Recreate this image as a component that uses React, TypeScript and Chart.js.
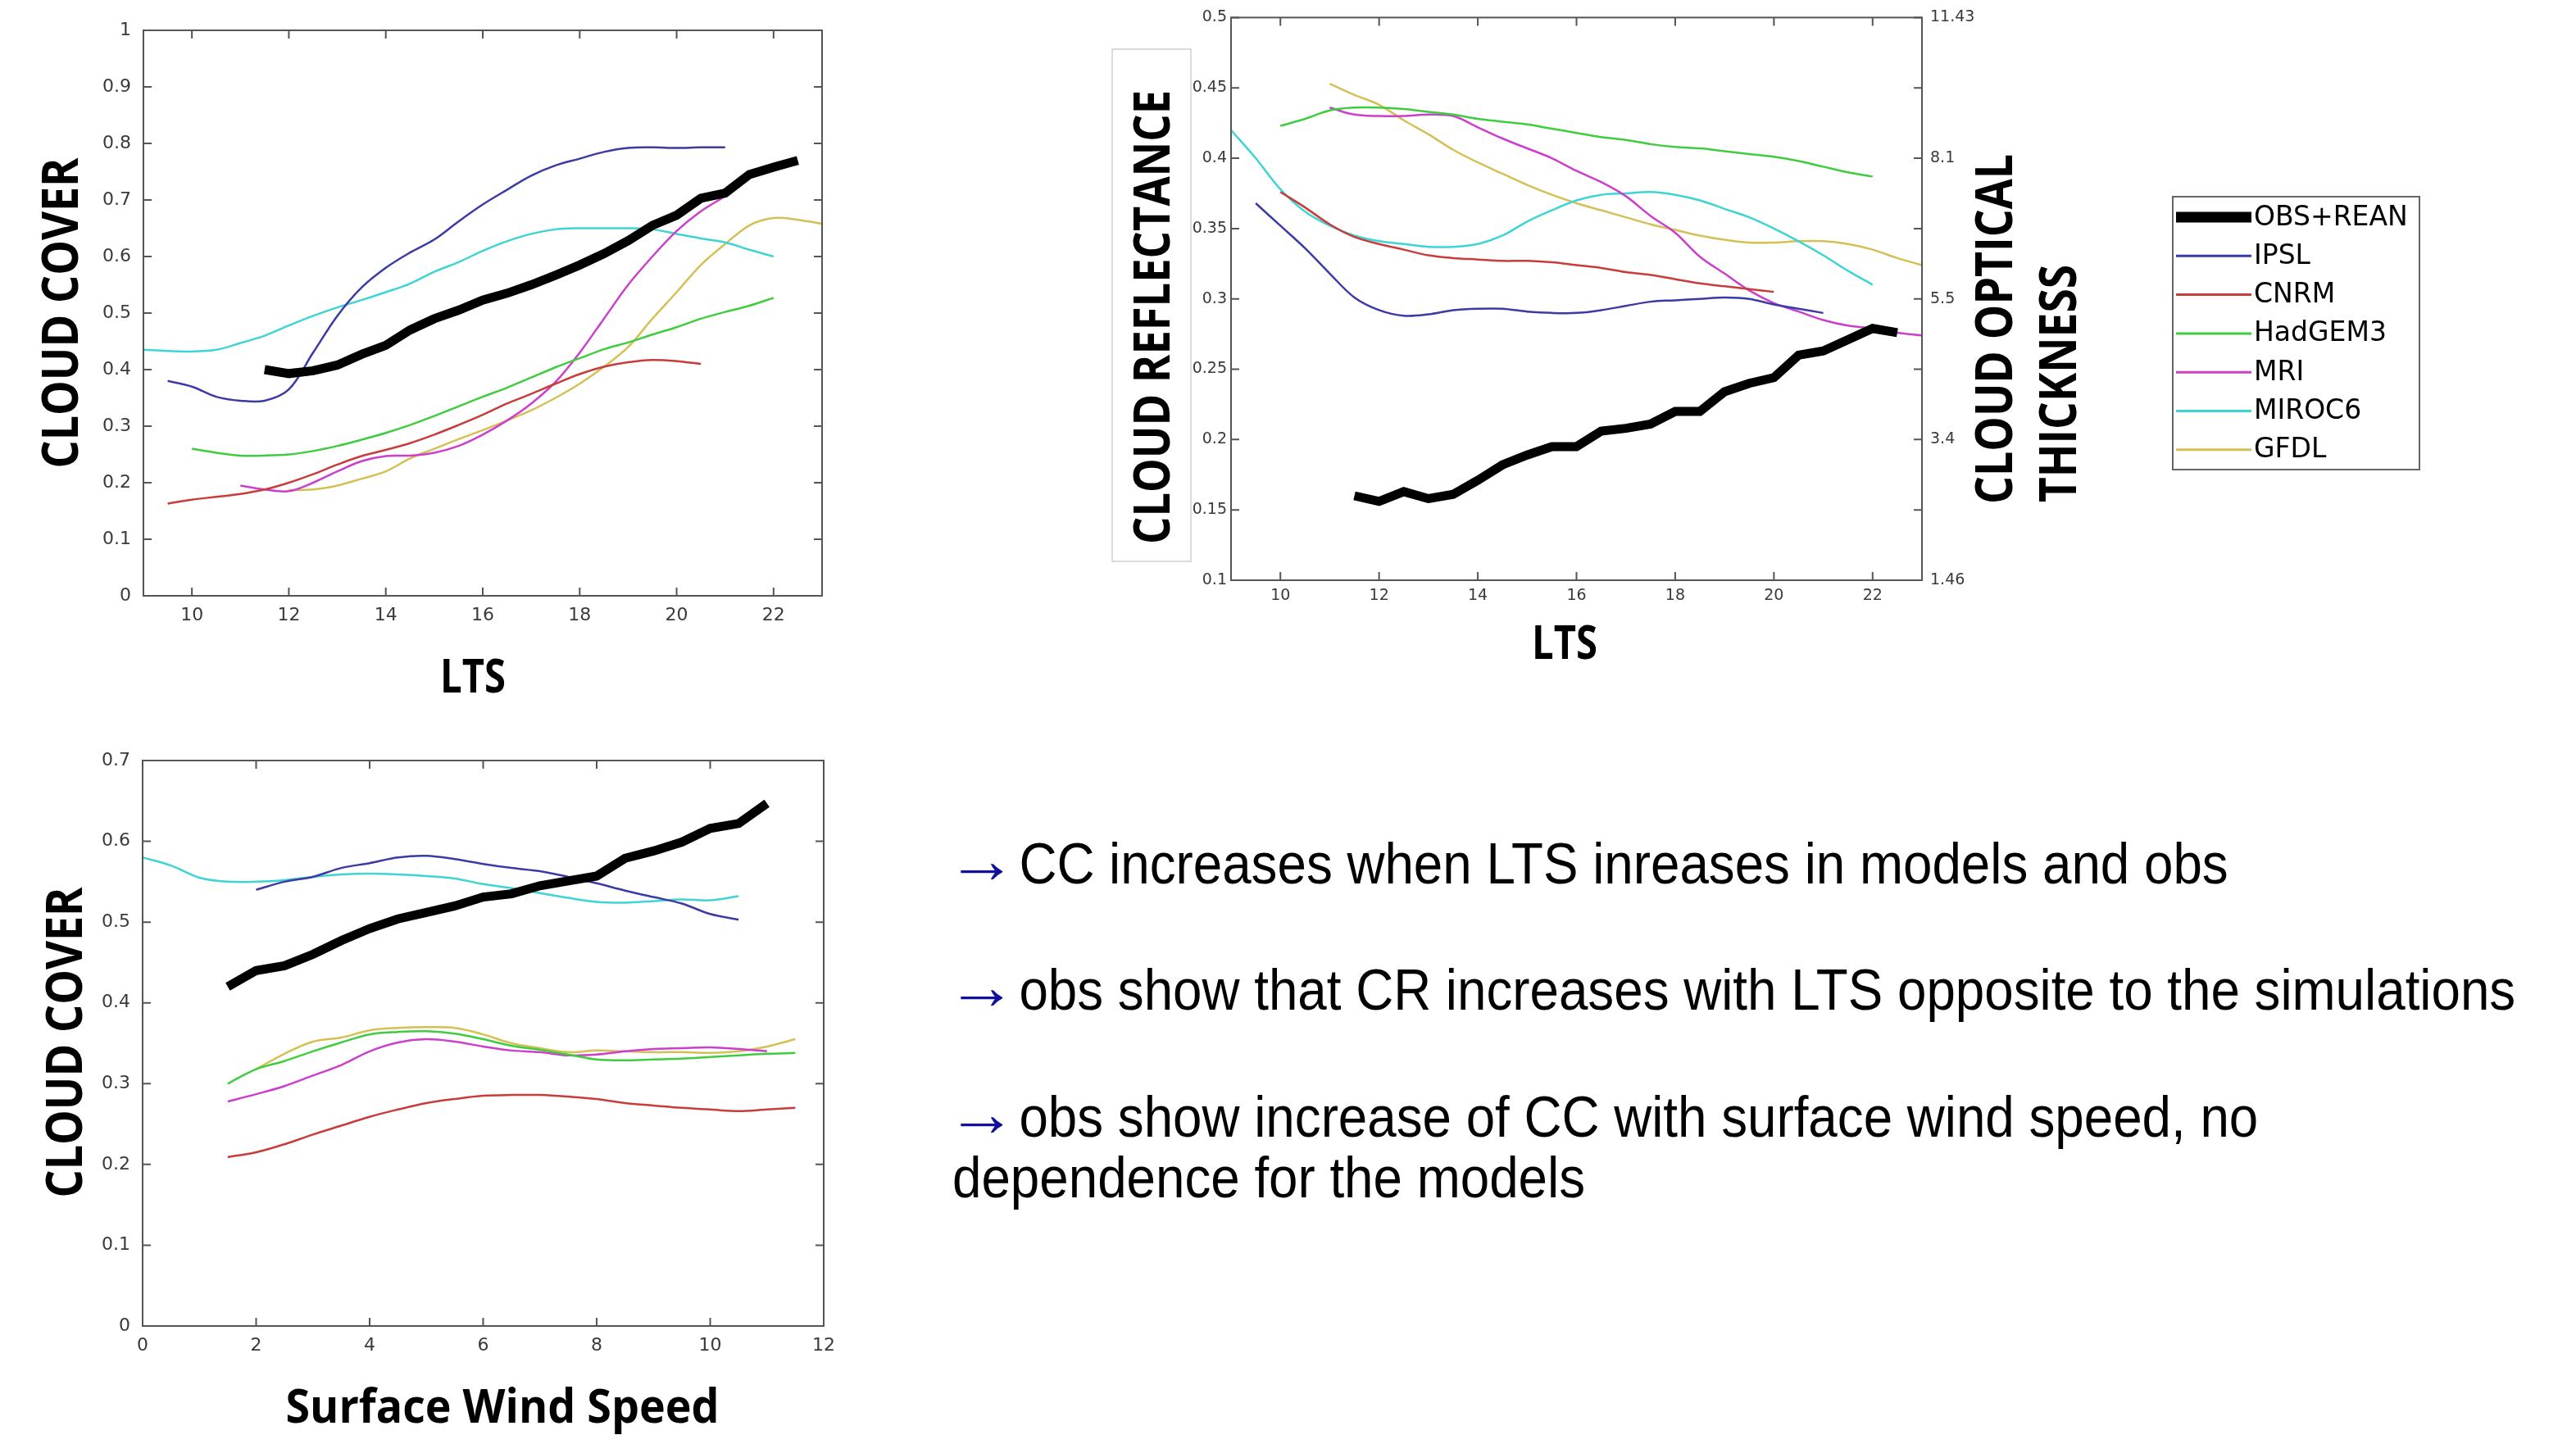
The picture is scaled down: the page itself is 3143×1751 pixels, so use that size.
import React, { useEffect, useRef } from 'react';
import { Chart, registerables } from 'chart.js';

Chart.register(...registerables);

// ---------------- series meta ----------------
const seriesNames = ['OBS+REAN', 'IPSL', 'CNRM', 'HadGEM3', 'MRI', 'MIROC6', 'GFDL'];
const seriesColors = ['#000000', '#3b3ba6', '#c83c3c', '#3fcc3f', '#cc3fcc', '#3fd4d4', '#d4c055'];
const seriesWidths = [11, 2.5, 2.5, 2.5, 2.5, 2.5, 2.5];

// ---------------- panel A: cloud cover vs LTS ----------------
const ltsX = [9, 9.5, 10, 10.5, 11, 11.5, 12, 12.5, 13, 13.5, 14, 14.5, 15, 15.5, 16, 16.5, 17, 17.5, 18, 18.5, 19, 19.5, 20, 20.5, 21, 21.5, 22, 22.5, 23];
const ccLtsObs = [null, null, null, null, null, 0.40, 0.393, 0.398, 0.408, 0.427, 0.443, 0.47, 0.49, 0.505, 0.523, 0.535, 0.55, 0.567, 0.585, 0.605, 0.628, 0.655, 0.673, 0.703, 0.712, 0.745, 0.758, 0.77, null];
const ccLtsIpsl = [null, 0.38, 0.37, 0.352, 0.345, 0.345, 0.365, 0.43, 0.495, 0.545, 0.58, 0.607, 0.63, 0.662, 0.692, 0.718, 0.743, 0.761, 0.773, 0.785, 0.792, 0.793, 0.792, 0.793, 0.793, null, null, null, null];
const ccLtsCnrm = [null, 0.163, 0.17, 0.175, 0.18, 0.188, 0.2, 0.215, 0.232, 0.247, 0.258, 0.27, 0.285, 0.302, 0.32, 0.34, 0.357, 0.375, 0.392, 0.405, 0.413, 0.417, 0.415, 0.41, null, null, null, null, null];
const ccLtsHad = [null, null, 0.26, 0.253, 0.248, 0.248, 0.25, 0.256, 0.265, 0.276, 0.288, 0.302, 0.318, 0.335, 0.352, 0.368, 0.386, 0.404, 0.42, 0.436, 0.448, 0.462, 0.475, 0.49, 0.502, 0.513, 0.527, null, null];
const ccLtsMri = [null, null, null, null, 0.195, 0.188, 0.185, 0.2, 0.22, 0.238, 0.247, 0.248, 0.253, 0.265, 0.285, 0.31, 0.34, 0.378, 0.43, 0.49, 0.55, 0.6, 0.645, 0.68, 0.707, 0.738, 0.755, 0.765, null];
const ccLtsMiroc = [0.435, 0.433, 0.432, 0.435, 0.447, 0.46, 0.478, 0.495, 0.51, 0.523, 0.537, 0.552, 0.573, 0.59, 0.61, 0.627, 0.64, 0.648, 0.65, 0.65, 0.65, 0.648, 0.64, 0.632, 0.625, 0.612, 0.6, null, null];
const ccLtsGfdl = [null, null, null, null, null, null, 0.187, 0.188, 0.195, 0.207, 0.22, 0.243, 0.26, 0.277, 0.293, 0.31, 0.328, 0.35, 0.375, 0.405, 0.44, 0.49, 0.537, 0.585, 0.622, 0.655, 0.668, 0.665, 0.658];
const ltsXTicks = [10, 12, 14, 16, 18, 20, 22];
const ccLtsYTicks = [0, 0.1, 0.2, 0.3, 0.4, 0.5, 0.6, 0.7, 0.8, 0.9, 1];

// ---------------- panel B: cloud reflectance vs LTS ----------------
const crLtsObs = [null, null, null, null, null, 0.16, 0.156, 0.163, 0.158, 0.161, 0.171, 0.182, 0.189, 0.195, 0.195, 0.206, 0.208, 0.211, 0.22, 0.22, 0.234, 0.24, 0.244, 0.26, 0.263, 0.271, 0.279, 0.276, null];
const crLtsIpsl = [null, 0.368, 0.352, 0.336, 0.318, 0.301, 0.292, 0.288, 0.289, 0.292, 0.293, 0.293, 0.291, 0.29, 0.29, 0.292, 0.295, 0.298, 0.299, 0.3, 0.301, 0.3, 0.296, 0.293, 0.29, null, null, null, null];
const crLtsCnrm = [null, null, 0.376, 0.365, 0.353, 0.344, 0.339, 0.335, 0.331, 0.329, 0.328, 0.327, 0.327, 0.326, 0.324, 0.322, 0.319, 0.317, 0.314, 0.311, 0.309, 0.307, 0.305, null, null, null, null, null, null];
const crLtsHad = [null, null, 0.423, 0.428, 0.434, 0.436, 0.436, 0.435, 0.433, 0.431, 0.428, 0.426, 0.424, 0.421, 0.418, 0.415, 0.413, 0.41, 0.408, 0.407, 0.405, 0.403, 0.401, 0.398, 0.394, 0.39, 0.387, null, null];
const crLtsMri = [null, null, null, null, 0.436, 0.431, 0.43, 0.43, 0.431, 0.43, 0.422, 0.414, 0.407, 0.4, 0.391, 0.383, 0.373, 0.359, 0.347, 0.33, 0.318, 0.306, 0.297, 0.291, 0.285, 0.281, 0.279, 0.276, 0.274];
const crLtsMiroc = [0.42, 0.4, 0.378, 0.362, 0.352, 0.345, 0.341, 0.339, 0.337, 0.337, 0.339, 0.345, 0.355, 0.363, 0.37, 0.374, 0.375, 0.376, 0.374, 0.37, 0.364, 0.358, 0.35, 0.341, 0.331, 0.32, 0.31, null, null];
const crLtsGfdl = [null, null, null, null, 0.453, 0.445, 0.438, 0.427, 0.417, 0.406, 0.397, 0.389, 0.381, 0.374, 0.368, 0.363, 0.358, 0.353, 0.349, 0.345, 0.342, 0.34, 0.34, 0.341, 0.341, 0.339, 0.335, 0.329, 0.324];
const crYTicks = [0.1, 0.15, 0.2, 0.25, 0.3, 0.35, 0.4, 0.45, 0.5];
const cotTickValues = [0.1, 0.2, 0.3, 0.4, 0.5];
const cotTickLabels = ['1.46', '3.4', '5.5', '8.1', '11.43'];

// ---------------- panel C: cloud cover vs surface wind speed ----------------
const windX = [0, 0.5, 1, 1.5, 2, 2.5, 3, 3.5, 4, 4.5, 5, 5.5, 6, 6.5, 7, 7.5, 8, 8.5, 9, 9.5, 10, 10.5, 11, 11.5];
const ccWindObs = [null, null, null, 0.42, 0.44, 0.446, 0.46, 0.477, 0.492, 0.504, 0.512, 0.52, 0.531, 0.535, 0.545, 0.551, 0.557, 0.579, 0.588, 0.599, 0.616, 0.622, 0.647, null];
const ccWindIpsl = [null, null, null, null, 0.54, 0.55, 0.556, 0.567, 0.573, 0.58, 0.582, 0.578, 0.572, 0.567, 0.563, 0.556, 0.548, 0.539, 0.531, 0.523, 0.51, 0.503, null, null];
const ccWindCnrm = [null, null, null, 0.209, 0.215, 0.225, 0.237, 0.248, 0.259, 0.268, 0.276, 0.281, 0.285, 0.286, 0.286, 0.284, 0.281, 0.276, 0.273, 0.27, 0.268, 0.266, 0.268, 0.27];
const ccWindHad = [null, null, null, 0.3, 0.318, 0.328, 0.34, 0.351, 0.361, 0.364, 0.365, 0.362, 0.355, 0.347, 0.342, 0.336, 0.33, 0.329, 0.33, 0.331, 0.333, 0.335, 0.337, 0.338];
const ccWindMri = [null, null, null, 0.278, 0.287, 0.297, 0.31, 0.323, 0.34, 0.351, 0.355, 0.352, 0.346, 0.341, 0.339, 0.335, 0.336, 0.34, 0.343, 0.344, 0.345, 0.343, 0.34, null];
const ccWindMiroc = [0.58, 0.57, 0.555, 0.55, 0.55, 0.552, 0.556, 0.559, 0.56, 0.559, 0.557, 0.554, 0.547, 0.542, 0.536, 0.53, 0.525, 0.524, 0.526, 0.528, 0.527, 0.532, null, null];
const ccWindGfdl = [null, null, null, null, 0.318, 0.337, 0.352, 0.357, 0.366, 0.369, 0.37, 0.369, 0.361, 0.35, 0.344, 0.339, 0.341, 0.34, 0.339, 0.339, 0.338, 0.34, 0.346, 0.355];
const windXTicks = [0, 2, 4, 6, 8, 10, 12];
const ccWindYTicks = [0, 0.1, 0.2, 0.3, 0.4, 0.5, 0.6, 0.7];

// ---------------- titles & slide text ----------------
const titleLtsX = 'LTS';
const titleCloudCover = 'CLOUD COVER';
const titleReflectance = 'CLOUD REFLECTANCE';
const titleOpticalLines = ['CLOUD OPTICAL', 'THICKNESS'];
const titleWind = 'Surface Wind Speed';
const bulletLines = [
  ['CC increases when LTS inreases in models and obs'],
  ['obs show that CR increases with LTS opposite to the simulations'],
  ['obs show increase of CC with surface wind speed, no', 'dependence for the models'],
];

const TICK_FAMILY = '"DejaVu Sans", sans-serif';
const TITLE_FAMILY = '"Open Sans", sans-serif';
const UP = -Math.PI / 2;

function buildDatasets(xs: number[], cols: (number | null)[][]) {
  return cols.map((ys, i) => ({
    label: seriesNames[i],
    data: xs.map((x, j) => ({ x, y: ys[j] })).filter((p) => p.y !== null),
    borderColor: seriesColors[i],
    backgroundColor: seriesColors[i],
    borderWidth: seriesWidths[i],
    pointRadius: 0,
    pointHoverRadius: 0,
    tension: i === 0 ? 0 : 0.35,
    fill: false,
    borderCapStyle: 'butt',
    borderJoinStyle: i === 0 ? 'miter' : 'round',
  }));
}

function makeAxis(o: any) {
  return {
    type: 'linear',
    position: o.position,
    min: o.min,
    max: o.max,
    afterBuildTicks: (s: any) => {
      s.ticks = o.ticks.map((v: number) => ({ value: v }));
    },
    afterFit: (s: any) => {
      if (o.horizontal) s.height = o.size;
      else s.width = o.size;
    },
    ticks: {
      autoSkip: false,
      maxRotation: 0,
      minRotation: 0,
      padding: o.padding,
      color: '#3a3a3a',
      font: { family: TICK_FAMILY, size: o.fontSize },
      callback: o.labels ? (_v: any, i: number) => o.labels[i] : (v: any) => String(v),
    },
    grid: { display: false, drawTicks: false, tickLength: 0 },
    border: { display: false },
    title: { display: false },
  };
}

const frameTicks = {
  id: 'frameTicks',
  afterDatasetsDraw(chart: any) {
    const { ctx, chartArea: a, scales } = chart;
    const len = 10;
    ctx.save();
    ctx.strokeStyle = '#555';
    ctx.lineWidth = 2;
    ctx.beginPath();
    for (const t of scales.x.ticks) {
      const p = scales.x.getPixelForValue(t.value);
      ctx.moveTo(p, a.bottom);
      ctx.lineTo(p, a.bottom - len);
      ctx.moveTo(p, a.top);
      ctx.lineTo(p, a.top + len);
    }
    for (const t of scales.y.ticks) {
      const p = scales.y.getPixelForValue(t.value);
      ctx.moveTo(a.left, p);
      ctx.lineTo(a.left + len, p);
      ctx.moveTo(a.right, p);
      ctx.lineTo(a.right - len, p);
    }
    ctx.stroke();
    ctx.strokeRect(a.left, a.top, a.right - a.left, a.bottom - a.top);
    ctx.restore();
  },
};

// axis titles: drawn bold, squeezed along the reading direction to the reference's length
function makeTitlePlugin(items: any[], boxes: any[] = []) {
  return {
    id: 'axisTitles',
    afterDraw(chart: any) {
      const ctx = chart.ctx;
      ctx.save();
      for (const b of boxes) {
        ctx.strokeStyle = b.color;
        ctx.lineWidth = b.width;
        ctx.strokeRect(b.x, b.y, b.w, b.h);
      }
      for (const t of items) {
        ctx.save();
        ctx.font = `bold ${t.size}px ${TITLE_FAMILY}`;
        const w = ctx.measureText(t.text).width;
        const sx = t.length ? t.length / w : 1;
        ctx.translate(t.x, t.y);
        ctx.rotate(t.rotate || 0);
        ctx.scale(sx, 1);
        ctx.fillStyle = '#000';
        ctx.textAlign = t.align || 'center';
        ctx.textBaseline = 'middle';
        ctx.fillText(t.text, 0, 0);
        ctx.restore();
      }
      ctx.restore();
    },
  };
}

function makeLegendPlugin(box: { x: number; y: number; w: number; h: number }) {
  return {
    id: 'boxLegend',
    afterDraw(chart: any) {
      const ctx = chart.ctx;
      ctx.save();
      ctx.strokeStyle = '#666';
      ctx.lineWidth = 2;
      ctx.strokeRect(box.x, box.y, box.w, box.h);
      const rowGap = 47.3;
      chart.data.datasets.forEach((ds: any, i: number) => {
        const y = box.y + 25 + i * rowGap;
        ctx.strokeStyle = ds.borderColor;
        ctx.lineWidth = ds.borderWidth > 5 ? 13 : 3;
        ctx.lineCap = 'butt';
        ctx.beginPath();
        ctx.moveTo(box.x + 4, y);
        ctx.lineTo(box.x + 96, y);
        ctx.stroke();
        ctx.fillStyle = '#000';
        ctx.font = `33px ${TICK_FAMILY}`;
        ctx.textAlign = 'left';
        ctx.textBaseline = 'middle';
        ctx.fillText(ds.label, box.x + 99, y + 1);
      });
      ctx.restore();
    },
  };
}

const baseOptions = {
  responsive: false,
  animation: false,
  devicePixelRatio: 1,
  events: [],
};

function configA() {
  return {
    type: 'line',
    data: { datasets: buildDatasets(ltsX, [ccLtsObs, ccLtsIpsl, ccLtsCnrm, ccLtsHad, ccLtsMri, ccLtsMiroc, ccLtsGfdl]) },
    options: {
      ...baseOptions,
      layout: { padding: { left: 0, top: 37, right: 37, bottom: 0 } },
      plugins: { legend: { display: false }, tooltip: { enabled: false } },
      scales: {
        x: makeAxis({ horizontal: true, position: 'bottom', min: 9, max: 23, ticks: ltsXTicks, fontSize: 22, padding: 11, size: 153 }),
        y: makeAxis({ horizontal: false, position: 'left', min: 0, max: 1, ticks: ccLtsYTicks, fontSize: 22, padding: 15, size: 175 }),
      },
    },
    plugins: [
      frameTicks,
      makeTitlePlugin([
        { text: titleCloudCover, x: 78, y: 382, rotate: UP, size: 61, length: 379 },
        { text: titleLtsX, x: 577, y: 828, size: 58, length: 80 },
      ]),
    ],
  };
}

function configB() {
  return {
    type: 'line',
    data: { datasets: buildDatasets(ltsX, [crLtsObs, crLtsIpsl, crLtsCnrm, crLtsHad, crLtsMri, crLtsMiroc, crLtsGfdl]) },
    options: {
      ...baseOptions,
      layout: { padding: { left: 0, top: 12, right: 0, bottom: 0 } },
      plugins: { legend: { display: false }, tooltip: { enabled: false } },
      scales: {
        x: makeAxis({ horizontal: true, position: 'bottom', min: 9, max: 23, ticks: ltsXTicks, fontSize: 19, padding: 8, size: 132 }),
        y: makeAxis({ horizontal: false, position: 'left', min: 0.1, max: 0.5, ticks: crYTicks, fontSize: 19, padding: 5, size: 162 }),
        y2: makeAxis({ horizontal: false, position: 'right', min: 0.1, max: 0.5, ticks: cotTickValues, labels: cotTickLabels, fontSize: 19, padding: 10, size: 645 }),
      },
    },
    plugins: [
      frameTicks,
      makeTitlePlugin(
        [
          { text: titleReflectance, x: 70, y: 387, rotate: UP, size: 60, length: 554 },
          { text: titleLtsX, x: 569, y: 787, size: 58, length: 80 },
          { text: titleOpticalLines[0], x: 1097, y: 615, rotate: UP, size: 62, align: 'left', length: 427 },
          { text: titleOpticalLines[1], x: 1175, y: 613, rotate: UP, size: 62, align: 'left', length: 290 },
        ],
        [{ x: 17, y: 60, w: 96, h: 625, color: '#cfcfcf', width: 1.5 }]
      ),
      makeLegendPlugin({ x: 1311, y: 240, w: 301, h: 333 }),
    ],
  };
}

function configC() {
  return {
    type: 'line',
    data: { datasets: buildDatasets(windX, [ccWindObs, ccWindIpsl, ccWindCnrm, ccWindHad, ccWindMri, ccWindMiroc, ccWindGfdl]) },
    options: {
      ...baseOptions,
      layout: { padding: { left: 0, top: 48, right: 35, bottom: 0 } },
      plugins: { legend: { display: false }, tooltip: { enabled: false } },
      scales: {
        x: makeAxis({ horizontal: true, position: 'bottom', min: 0, max: 12, ticks: windXTicks, fontSize: 22, padding: 11, size: 133 }),
        y: makeAxis({ horizontal: false, position: 'left', min: 0, max: 0.7, ticks: ccWindYTicks, fontSize: 22, padding: 15, size: 174 }),
      },
    },
    plugins: [
      frameTicks,
      makeTitlePlugin([
        { text: titleCloudCover, x: 83, y: 392, rotate: UP, size: 61, length: 379 },
        { text: titleWind, x: 613, y: 839, size: 58, length: 529 },
      ]),
    ],
  };
}

function ChartCanvas(props: { left: number; top: number; width: number; height: number; make: () => any }) {
  const ref = useRef<HTMLCanvasElement>(null);
  useEffect(() => {
    const chart = new Chart(ref.current as HTMLCanvasElement, props.make());
    return () => chart.destroy();
  }, []);
  return (
    <canvas
      ref={ref}
      width={props.width}
      height={props.height}
      style={{ position: 'absolute', left: props.left, top: props.top, width: props.width, height: props.height }}
    />
  );
}

export default function App() {
  const bulletTops = [1017, 1171, 1326];
  return (
    <div style={{ position: 'relative', width: 3143, height: 1751, overflow: 'hidden', background: '#fff' }}>
      <style>{'html,body{margin:0;padding:0;overflow:hidden;background:#fff}'}</style>
      <ChartCanvas left={0} top={0} width={1040} height={880} make={configA} />
      <ChartCanvas left={1340} top={0} width={1650} height={840} make={configB} />
      <ChartCanvas left={0} top={880} width={1040} height={871} make={configC} />
      {bulletLines.map((lines, i) => (
        <div
          key={i}
          style={{
            position: 'absolute',
            left: 1162,
            top: bulletTops[i],
            fontFamily: '"Liberation Sans", Arial, sans-serif',
            fontSize: 70,
            lineHeight: '74px',
            whiteSpace: 'nowrap',
            transform: 'scaleX(0.91)',
            transformOrigin: '0 0',
            color: '#000',
          }}
        >
          <span
            style={{
              color: '#10109c',
              display: 'inline-block',
              position: 'relative',
              top: -5,
              transform: 'scale(1.35, 1.15)',
              transformOrigin: '0 50%',
              marginLeft: -8,
              marginRight: 8,
            }}
          >
            {'\u2192'}
          </span>
          {' '}
          {lines[0]}
          {lines.slice(1).map((l, k) => (
            <React.Fragment key={k}>
              <br />
              {l}
            </React.Fragment>
          ))}
        </div>
      ))}
    </div>
  );
}
